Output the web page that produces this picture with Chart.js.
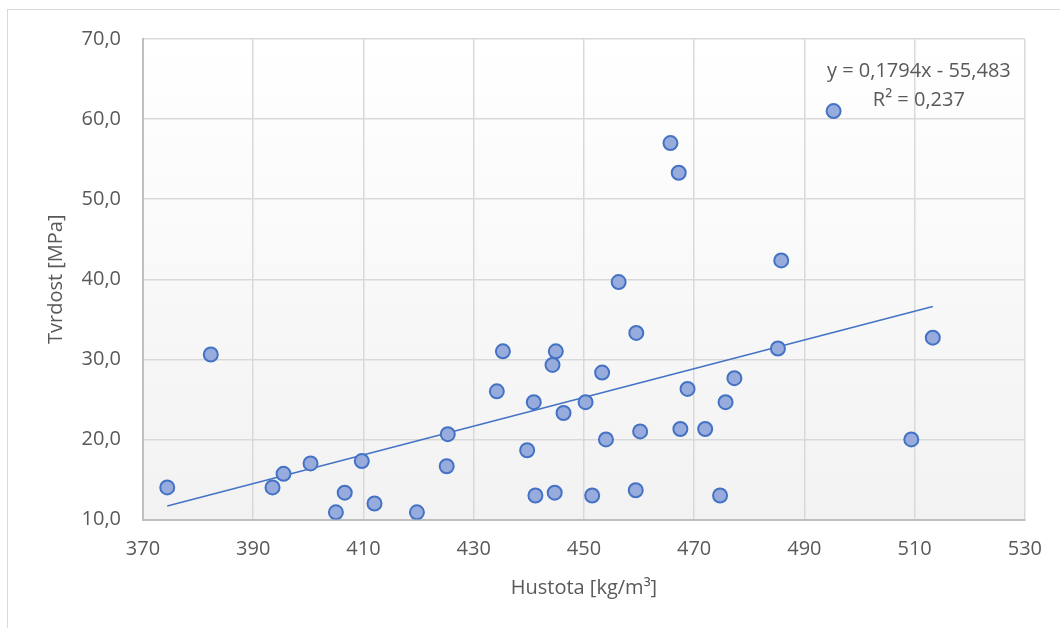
<!DOCTYPE html>
<html lang="cs">
<head>
<meta charset="utf-8">
<title>Tvrdost vs. hustota</title>
<script src="https://cdn.jsdelivr.net/npm/chart.js@4.4.1/dist/chart.umd.min.js"></script>
<style>
  html, body { margin: 0; padding: 0; background: #fff; }
  #wrap { position: relative; width: 1060px; height: 628px; }
</style>
</head>
<body>
<div id="wrap"><canvas id="graf"></canvas></div>
<script>
// Naměřené hodnoty: hustota [kg/m3] a tvrdost [MPa]
const hustota = [
  374.4, 382.3, 393.5, 395.5, 400.4, 405.0, 406.6, 409.7, 412.0, 419.7,
  425.3, 425.1, 434.2, 435.3, 439.7, 440.9, 441.2, 444.3, 444.9, 444.7,
  446.3, 450.3, 451.5, 453.3, 454.0, 456.3, 459.5, 459.4, 460.2, 465.7,
  467.2, 467.5, 468.8, 472.0, 474.7, 475.7, 477.3, 485.2, 485.8, 495.3,
  509.4, 513.3
];
const tvrdost = [
  14.0, 30.6, 14.0, 15.7, 17.0, 10.9, 13.35, 17.3, 12.0, 10.9,
  20.65, 16.65, 26.0, 31.0, 18.65, 24.65, 13.0, 29.3, 31.0, 13.35,
  23.3, 24.65, 13.0, 28.35, 20.0, 39.65, 33.3, 13.65, 21.0, 57.0,
  53.3, 21.3, 26.3, 21.3, 13.0, 24.65, 27.65, 31.35, 42.35, 61.0,
  20.0, 32.7
];

// Lineární regrese tak, jak ji uvádí popisek
const smernice = 0.1794;
const posun = -55.483;
const rovniceText = ["y = 0,1794x - 55,483", "R² = 0,237"];

const FONT = "'Open Sans', 'DejaVu Sans', sans-serif";
const SEDA = "#595959";

const body = hustota.map((x, i) => ({ x, y: tvrdost[i] }));
const xMin = Math.min(...hustota);
const xMax = Math.max(...hustota);
const trend = [xMin, xMax].map(x => ({ x, y: smernice * x + posun }));

// Pozadí grafu (přechod) a rámeček kolem celé plochy
const pozadi = {
  id: "pozadi",
  beforeDraw(chart) {
    const { ctx, chartArea: a } = chart;
    ctx.save();
    ctx.fillStyle = "#fff";
    ctx.fillRect(0, 0, chart.width, chart.height);
    ctx.strokeStyle = "#D9D9D9";
    ctx.lineWidth = 1;
    ctx.strokeRect(7.5, 9.5, chart.width + 20, chart.height + 20);
    const g = ctx.createLinearGradient(0, a.top, 0, a.bottom);
    g.addColorStop(0, "#FFFFFF");
    g.addColorStop(1, "#F2F2F2");
    ctx.fillStyle = g;
    ctx.fillRect(a.left, a.top, a.right - a.left, a.bottom - a.top);
    ctx.restore();
  }
};

// Rovnice regrese v pravém horním rohu
const rovnice = {
  id: "rovnice",
  afterDatasetsDraw(chart) {
    const { ctx, chartArea: a } = chart;
    ctx.save();
    ctx.font = "20px " + FONT;
    ctx.fillStyle = SEDA;
    ctx.textAlign = "center";
    ctx.textBaseline = "middle";
    const cx = a.right - 106;
    ctx.fillText(rovniceText[0], cx, a.top + 32);
    ctx.fillText(rovniceText[1], cx, a.top + 61);
    ctx.restore();
  }
};

new Chart(document.getElementById("graf"), {
  type: "scatter",
  data: {
    datasets: [
      {
        label: "Tvrdost",
        data: body,
        pointRadius: 7,
        pointHoverRadius: 7,
        pointBackgroundColor: "#97ABDD",
        pointBorderColor: "#4472C4",
        pointBorderWidth: 2,
        order: 1
      },
      {
        label: "Lineární (Tvrdost)",
        type: "line",
        data: trend,
        borderColor: "#4472C4",
        borderWidth: 1.5,
        pointRadius: 0,
        fill: false,
        order: 2
      }
    ]
  },
  options: {
    responsive: true,
    maintainAspectRatio: false,
    animation: false,
    layout: { padding: { left: 40, right: 35, top: 39, bottom: 24 } },
    plugins: {
      legend: { display: false },
      tooltip: { enabled: false }
    },
    scales: {
      x: {
        type: "linear",
        min: 370,
        max: 530,
        ticks: {
          stepSize: 20,
          padding: 18,
          color: SEDA,
          font: { family: FONT, size: 20 }
        },
        grid: { color: "#D9D9D9", lineWidth: 1.5, drawTicks: false },
        border: { color: "#BFBFBF", width: 2 },
        title: {
          display: true,
          text: "Hustota [kg/m³]",
          color: SEDA,
          font: { family: FONT, size: 20 },
          padding: { top: 4, bottom: 4 }
        },
        afterFit: s => { s.height = 84.5; }
      },
      y: {
        min: 10,
        max: 70,
        ticks: {
          stepSize: 10,
          padding: 22,
          color: SEDA,
          font: { family: FONT, size: 20 },
          callback: v => v.toFixed(1).replace(".", ",")
        },
        grid: { color: "#D9D9D9", lineWidth: 1.5, drawTicks: false },
        border: { color: "#BFBFBF", width: 2 },
        title: {
          display: true,
          text: "Tvrdost [MPa]",
          color: SEDA,
          font: { family: FONT, size: 20 },
          padding: { top: 4, bottom: 4 }
        },
        afterFit: s => { s.width = 103; }
      }
    }
  },
  plugins: [pozadi, rovnice]
});
</script>
</body>
</html>
